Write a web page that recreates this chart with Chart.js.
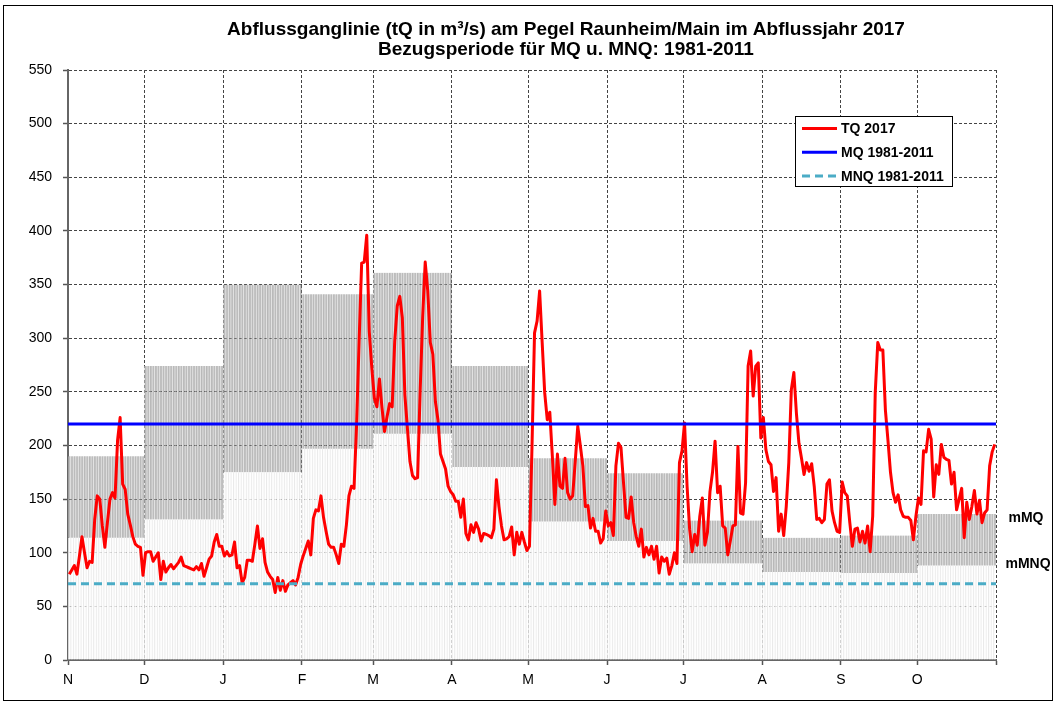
<!DOCTYPE html>
<html><head><meta charset="utf-8">
<script src="https://cdn.jsdelivr.net/npm/chart.js@4.4.0/dist/chart.umd.min.js"></script>
<style>html,body{margin:0;padding:0;background:#fff;}canvas{display:block;}</style>
</head><body>
<canvas id="c" width="1056" height="704"></canvas>
<script>
const titleLines = ['Abflussganglinie (tQ in m³/s) am Pegel Raunheim/Main im Abflussjahr 2017', 'Bezugsperiode für MQ u. MNQ: 1981-2011'];
const monthLabels = ['N','D','J','F','M','A','M','J','J','A','S','O'];
const monthDays = [30,31,31,28,31,30,31,30,31,31,30,31];
const mMQ = [190,274,350,341,361,274,188,174,130,114,116,136];
const mMNQ = [114,131,175,197,211,180,129,111,90,82,81,88];
const MQ = 220;
const MNQ = 71;
const yMin = 0, yMax = 550, yStep = 50;
const tq2017 = [
 80,84,88,80,97,115,100,86,92,91,131,153,150,125,105,128,150,156,151,205,226,164,159,136,126,115,108,106,105,79,
 100,101,101,92,96,100,75,92,82,86,89,85,88,91,96,88,87,86,85,84,87,84,90,78,86,94,97,110,117,106,106,
 97,101,97,98,110,86,88,72,77,93,93,92,108,125,104,113,91,82,78,75,63,77,65,74,64,70,72,74,70,77,89,
 97,104,111,98,132,140,139,153,133,120,108,105,105,98,90,108,106,126,153,162,160,219,297,370,371,396,306,272,
 244,236,262,235,213,227,239,236,297,330,339,319,247,216,185,172,169,170,250,320,371,344,296,285,241,224,192,185,178,162,157,
 154,148,148,133,150,118,112,126,119,128,122,111,118,117,116,114,122,168,143,125,112,113,115,124,98,119,108,119,110,102,
 106,199,305,316,344,296,249,224,231,190,145,192,162,160,188,156,150,153,185,218,200,181,143,144,123,132,120,120,109,113,139,
 125,128,116,181,202,198,165,133,132,152,128,115,106,122,96,105,98,106,94,106,81,96,92,95,80,88,100,90,184,195,
 221,162,122,101,117,107,134,151,107,119,157,175,204,156,162,125,123,98,111,125,126,199,137,136,165,274,288,246,274,277,207,
 226,196,185,182,157,170,120,136,116,143,184,252,268,230,202,188,173,184,176,183,162,131,132,128,131,164,168,139,128,120,119,
 166,156,153,128,106,122,123,110,120,109,125,101,134,249,296,289,289,233,205,175,156,147,154,140,134,133,133,130,112,134,
 151,145,195,194,215,206,152,182,173,201,189,187,186,164,175,140,150,160,114,147,131,143,158,136,149,128,137,140,181,194,201
];
const legendItems = [
  {text:'TQ 2017', color:'#ff0000', dash:[]},
  {text:'MQ 1981-2011', color:'#0000ff', dash:[]},
  {text:'MNQ 1981-2011', color:'#4bacc6', dash:[8,5]}
];

// derived structures
const monthStarts = [0];
monthDays.forEach(d => monthStarts.push(monthStarts[monthStarts.length-1] + d));
const totalDays = monthStarts[monthStarts.length-1];
const bandData = [], lowData = [];
monthDays.forEach((n, m) => {
  for (let k = 0; k < n; k++) {
    const d = monthStarts[m] + k;
    bandData.push({x: d + 0.5, y: [mMNQ[m], mMQ[m]]});
    lowData.push({x: d + 0.5, y: [0, mMNQ[m]]});
  }
});
const FONT = '"Liberation Sans", Arial, sans-serif';

const overlay = {
  id: 'overlay',
  afterDraw(chart) {
    const {ctx, scales: {y}} = chart;
    ctx.save();
    ctx.fillStyle = '#000';
    ctx.textAlign = 'center';
    ctx.textBaseline = 'middle';
    ctx.font = 'bold 19px ' + FONT;
    ctx.fillText(titleLines[0], 566, 30);
    ctx.fillText(titleLines[1], 566, 50);
    ctx.font = 'bold 14px ' + FONT;
    ctx.fillText('mMQ', 1026, y.getPixelForValue(mMQ[11]) + 4);
    ctx.fillText('mMNQ', 1028, y.getPixelForValue(mMNQ[11]) - 1);
    // legend
    ctx.fillStyle = '#fff';
    ctx.fillRect(795.5, 116.5, 157, 70);
    ctx.strokeStyle = '#000';
    ctx.lineWidth = 1;
    ctx.setLineDash([]);
    ctx.strokeRect(795.5, 116.5, 157, 70);
    legendItems.forEach((it, i) => {
      const yy = 128.5 + i * 23.7;
      ctx.beginPath();
      ctx.strokeStyle = it.color;
      ctx.lineWidth = 3;
      ctx.setLineDash(it.dash);
      ctx.moveTo(802, yy);
      ctx.lineTo(837, yy);
      ctx.stroke();
      ctx.setLineDash([]);
      ctx.fillStyle = '#000';
      ctx.textAlign = 'left';
      ctx.font = 'bold 14px ' + FONT;
      ctx.fillText(it.text, 841, yy + 1);
    });
    // outer frame
    ctx.strokeStyle = '#000';
    ctx.lineWidth = 1;
    ctx.strokeRect(3.5, 5.5, 1049, 695);
    ctx.restore();
  }
};

new Chart(document.getElementById('c'), {
  type: 'bar',
  data: {
    datasets: [
      {type: 'line', label: 'MQ 1981-2011', data: [{x: 0, y: MQ}, {x: totalDays, y: MQ}],
       borderColor: '#0000ff', borderWidth: 3, pointRadius: 0, order: 1},
      {type: 'line', label: 'MNQ 1981-2011', data: [{x: 0, y: MNQ}, {x: totalDays, y: MNQ}],
       borderColor: '#4bacc6', borderWidth: 3, borderDash: [8, 5], pointRadius: 0, order: 1},
      {type: 'line', label: 'TQ 2017', data: tq2017.map((v, i) => ({x: i + 0.5, y: v})),
       borderColor: '#ff0000', borderWidth: 3, pointRadius: 0, tension: 0,
       borderJoinStyle: 'round', order: 2},
      {type: 'bar', label: 'band', data: bandData, grouped: false,
       backgroundColor: 'rgba(128,128,128,0.5)', borderColor: 'rgba(215,215,215,0.55)',
       borderWidth: {left: 1, right: 0, top: 0, bottom: 0}, borderSkipped: false,
       barPercentage: 1, categoryPercentage: 1, order: 5},
      {type: 'bar', label: 'low', data: lowData, grouped: false,
       backgroundColor: 'rgba(255,255,255,0.82)', borderColor: 'rgba(228,228,228,0.8)',
       borderWidth: {left: 1, right: 0, top: 0, bottom: 0}, borderSkipped: false,
       barPercentage: 1, categoryPercentage: 1, order: 5}
    ]
  },
  options: {
    responsive: false, animation: false, devicePixelRatio: 1,
    layout: {padding: {top: 70, right: 60, left: 0, bottom: 0}},
    plugins: {legend: {display: false}, tooltip: {enabled: false}, title: {display: false}},
    scales: {
      x: {
        type: 'linear', min: 0, max: totalDays, offset: false,
        afterBuildTicks: s => { s.ticks = monthStarts.map(v => ({value: v})); },
        afterFit: s => { s.height = 44; },
        ticks: {autoSkip: false, maxRotation: 0, minRotation: 0, padding: 7, color: '#000',
          font: {family: FONT, size: 14},
          callback: v => { const i = monthStarts.indexOf(v); return (i >= 0 && i < monthLabels.length) ? monthLabels[i] : ''; }},
        grid: {offset: false, color: '#444', lineWidth: 1, tickLength: 5, tickColor: '#555', tickWidth: 1.5, drawTicks: true},
        border: {display: true, color: '#666', width: 2, dash: [3, 2]}
      },
      y: {
        min: yMin, max: yMax,
        afterFit: s => { s.width = 68; },
        ticks: {stepSize: yStep, padding: 11, color: '#000', font: {family: FONT, size: 14}},
        grid: {color: '#444', lineWidth: 1, tickLength: 5, tickColor: '#555', tickWidth: 1.5, drawTicks: true},
        border: {display: true, color: '#666', width: 2, dash: [3, 2]}
      }
    }
  },
  plugins: [overlay]
});
</script>
</body></html>
